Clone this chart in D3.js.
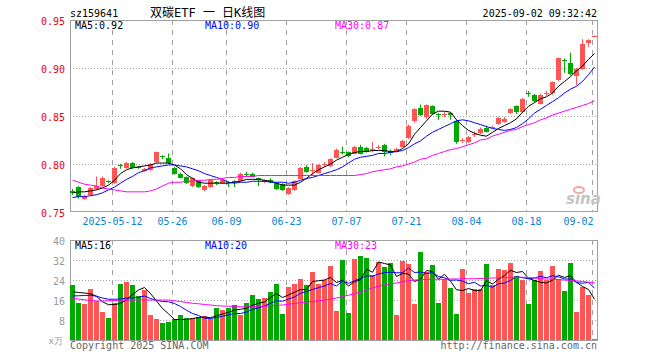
<!DOCTYPE html>
<html>
<head>
<meta charset="utf-8">
<script src="https://cdn.jsdelivr.net/npm/d3@7/dist/d3.min.js"></script>
<style>
  body { margin: 0; background: #fff; }
  svg { display: block; }
</style>
</head>
<body>
<div id="chart"></div>
<script>

// trading days shown, 2025-04-28 .. 2025-09-02
var dates = ("2025-04-28 2025-04-29 2025-04-30 2025-05-06 2025-05-07 2025-05-08 2025-05-09 2025-05-12 2025-05-13 2025-05-14 " +
    "2025-05-15 2025-05-16 2025-05-19 2025-05-20 2025-05-21 2025-05-22 2025-05-23 2025-05-26 2025-05-27 2025-05-28 " +
    "2025-05-29 2025-05-30 2025-06-03 2025-06-04 2025-06-05 2025-06-06 2025-06-09 2025-06-10 2025-06-11 2025-06-12 " +
    "2025-06-13 2025-06-16 2025-06-17 2025-06-18 2025-06-19 2025-06-20 2025-06-23 2025-06-24 2025-06-25 2025-06-26 " +
    "2025-06-27 2025-06-30 2025-07-01 2025-07-02 2025-07-03 2025-07-04 2025-07-07 2025-07-08 2025-07-09 2025-07-10 " +
    "2025-07-11 2025-07-14 2025-07-15 2025-07-16 2025-07-17 2025-07-18 2025-07-21 2025-07-22 2025-07-23 2025-07-24 " +
    "2025-07-25 2025-07-28 2025-07-29 2025-07-30 2025-07-31 2025-08-01 2025-08-04 2025-08-05 2025-08-06 2025-08-07 " +
    "2025-08-08 2025-08-11 2025-08-12 2025-08-13 2025-08-14 2025-08-15 2025-08-18 2025-08-19 2025-08-20 2025-08-21 " +
    "2025-08-22 2025-08-25 2025-08-26 2025-08-27 2025-08-28 2025-08-29 2025-09-01 2025-09-02").split(" ");

var open = [.772,.776,.764,.768,.774,.777,.782,.780,.799,.796,
    .801,.797,.793,.794,.802,.808,.806,.796,.790,.786,
    .777,.782,.773,.776,.781,.780,.781,.782,.783,.790,
    .790,.785,.781,.783,.780,.779,.769,.773,.785,.797,
    .793,.791,.799,.798,.807,.813,.812,.811,.818,.817,
    .815,.817,.820,.814,.813,.818,.827,.844,.858,.848,
    .860,.852,.851,.853,.845,.824,.823,.830,.832,.838,
    .838,.842,.844,.853,.860,.854,.874,.872,.863,.873,
    .874,.887,.908,.905,.892,.899,.926,.932];
var close = [.770,.766,.767,.775,.777,.785,.781,.796,.798,.801,
    .796,.796,.795,.800,.812,.807,.801,.790,.786,.780,
    .785,.776,.777,.783,.780,.783,.780,.781,.790,.789,
    .787,.783,.783,.781,.774,.773,.775,.782,.796,.792,
    .794,.799,.800,.805,.815,.812,.808,.818,.811,.813,
    .816,.818,.813,.812,.816,.824,.840,.857,.851,.861,
    .852,.851,.852,.851,.823,.825,.828,.831,.836,.834,
    .839,.848,.847,.857,.854,.868,.873,.866,.872,.874,
    .885,.910,.907,.894,.899,.925,.929,.933];
var high = [.774,.777,.768,.776,.787,.787,.783,.797,.800,.802,
    .802,.798,.796,.801,.813,.809,.811,.797,.791,.787,
    .786,.783,.778,.784,.782,.784,.782,.783,.791,.792,
    .791,.786,.784,.785,.781,.780,.776,.783,.797,.799,
    .801,.800,.802,.806,.816,.818,.813,.819,.820,.818,
    .823,.820,.821,.815,.817,.825,.841,.858,.862,.862,
    .861,.853,.854,.854,.846,.827,.829,.834,.838,.840,
    .840,.849,.849,.858,.861,.869,.876,.873,.873,.876,
    .886,.911,.910,.916,.900,.930,.930,.934];
var low = [.768,.764,.763,.767,.773,.776,.780,.779,.795,.795,
    .795,.795,.792,.793,.801,.805,.800,.789,.785,.779,
    .776,.775,.772,.775,.778,.779,.776,.776,.782,.787,
    .786,.777,.780,.780,.773,.772,.768,.772,.784,.791,
    .788,.790,.797,.797,.806,.810,.807,.810,.810,.812,
    .812,.815,.808,.809,.812,.817,.826,.843,.850,.847,
    .851,.846,.849,.846,.821,.822,.822,.828,.831,.833,
    .837,.841,.843,.852,.852,.853,.870,.864,.862,.871,
    .872,.886,.895,.892,.882,.898,.922,.932];

// volume, unit 万
var volume = [22,14.9,14.4,20.4,15.7,11.3,8.8,14.7,22.4,23.2,
    22,17.6,20,10,8.4,6.9,7.3,8.4,9.9,8.7,
    8.7,9.3,9.6,8.4,12.7,12,12.7,14,10,15,
    18,16.4,16.8,19.2,22.4,10.4,21.2,22.4,24.4,22,
    27.2,22.4,24,29.6,11.6,32,10.8,32.4,33.6,32.8,
    26,31.2,29.3,30.7,10,31.6,30.4,14.4,35.2,27.2,
    30,14.9,24.4,20.8,10.4,28.4,18.8,20.4,20.4,30.4,
    22,28.4,28,30.8,25.6,24,14.4,24,27.6,24,
    29.6,24.4,19.6,30.8,11.2,21.2,18,0.4];

var ma5 = [.770,.771,.771,.772,.773,.775,.778,.783,.790,.794,
    .796,.797,.798,.799,.801,.801,.801,.799,.795,.789,
    .785,.781,.780,.780,.780,.780,.780,.781,.782,.784,
    .784,.784,.783,.782,.780,.778,.778,.778,.781,.785,
    .790,.794,.797,.800,.804,.807,.810,.812,.813,.813,
    .814,.814,.814,.813,.813,.816,.821,.831,.838,.845,
    .852,.855,.855,.854,.846,.840,.835,.832,.830,.829,
    .833,.837,.840,.843,.847,.854,.860,.864,.868,.870,
    .874,.881,.886,.891,.897,.902,.909,.915];
var ma10 = [.765,.766,.766,.767,.768,.770,.773,.776,.780,.784,
    .787,.791,.793,.796,.797,.798,.799,.799,.798,.797,
    .795,.793,.790,.788,.786,.784,.781,.780,.781,.781,
    .782,.782,.782,.781,.781,.781,.780,.781,.783,.785,
    .786,.788,.790,.792,.794,.797,.801,.805,.807,.808,
    .809,.811,.811,.812,.813,.814,.817,.821,.824,.829,
    .833,.836,.839,.842,.845,.846,.845,.843,.841,.839,
    .837,.836,.835,.836,.838,.842,.847,.853,.857,.861,
    .865,.869,.874,.878,.881,.886,.893,.901];
var ma30 = [.783,.781,.779,.778,.777,.775,.774,.773,.772,.771,
    .771,.771,.771,.772,.774,.777,.780,.781,.781,.782,
    .782,.783,.783,.784,.784,.785,.786,.786,.787,.787,
    .787,.788,.788,.788,.788,.788,.788,.788,.788,.788,
    .788,.788,.788,.788,.788,.788,.788,.788,.789,.790,
    .792,.793,.794,.795,.797,.798,.800,.802,.805,.806,
    .809,.811,.813,.815,.816,.818,.820,.822,.825,.826,
    .829,.831,.833,.835,.836,.839,.841,.843,.846,.848,
    .851,.853,.855,.857,.859,.861,.863,.866];

var vma5 = [19.3,19,18.8,18.5,17.5,15.3,14.1,14.2,14.6,16.1,
    18.2,20,21,18.6,15.6,12.6,10.5,8.2,8.2,8.2,
    8.6,9,9.2,8.9,9.7,10.4,11.1,12,12.3,12.7,
    13.9,14.7,15.2,17.1,18.6,17,18,19.1,20.2,20.1,
    23.4,23.7,24,25,23,23.9,21.6,23.3,24.1,28.3,
    27.1,31.2,30.6,30,25.4,26.6,26.4,23.4,24.3,27.8,
    27.4,24.3,26.3,23.5,20.1,19.8,20.6,19.8,19.7,23.7,
    22.4,24.3,25.8,27.9,27,27.4,24.6,23.8,23.1,22.8,
    23.9,25.9,25,25.7,23.1,21.4,20.2,16.3];
var vma10 = [17.6,17.7,17.8,17.9,17.5,16.8,16.3,16.3,16.4,16.8,
    16.8,17.1,17.6,16.6,15.9,15.4,15.3,14.6,13.4,11.9,
    10.6,9.8,8.7,8.6,9,9.5,10.1,10.6,10.6,11.2,
    12.2,12.9,13.6,14.7,15.7,15.5,16.4,17.2,18.7,19.4,
    20.2,20.9,21.6,22.6,21.6,23.7,22.7,23.7,24.6,25.7,
    25.5,26.4,27,27.1,26.9,26.9,28.8,27,27.2,26.6,
    27,25.4,24.9,23.9,24,23.6,22.5,23.1,21.6,21.9,
    21.1,22.5,22.8,23.8,25.4,24.9,24.5,24.8,25.5,24.9,
    25.7,25.3,24.4,24.4,23,22.7,23.1,20.7];
var vma30 = [16.7,16.4,16.1,15.8,15.6,15.6,15.7,15.8,15.9,16,
    16,16,16,16,16,16,16,15.7,15.4,15,
    14.7,14.5,14.2,14,13.7,13.6,13.5,13.4,13.3,13.3,
    13.3,13.4,13.5,13.7,13.9,14,14.3,14.6,14.9,15.2,
    15.4,15.7,16,16.3,16.8,17.4,17.9,18.5,19.2,20,
    20.8,21.5,22,22.5,22.8,23.3,23.7,24,24.1,24.2,
    24.3,24.3,24.3,24.4,24.4,24.5,24.5,24.5,24.6,24.7,
    24.8,24.9,25,25.1,25.1,25.1,25,24.8,24.6,24.4,
    24.3,24.2,24,23.8,23.6,23.4,23.1,22.9];

var priceTicks = [0.75, 0.80, 0.85, 0.90, 0.95];
var volTicks = [8, 16, 24, 32, 40];
var tickDates = ["2025-05-12", "2025-05-26", "2025-06-09", "2025-06-23", "2025-07-07",
    "2025-07-21", "2025-08-04", "2025-08-18", "2025-09-02"];
var maNames = ["MA5", "MA10", "MA30"];
var priceMaText = ["0.92", "0.90", "0.87"];
var volMaText = ["16", "20", "23"];

var RED = "#ff5555", GREEN = "#00aa00", GRID = "#a0a0a0";
var MONO = "'DejaVu Sans Mono', 'Liberation Mono', monospace";
var maColors = ["#000000", "#0000ff", "#ff00ff"];

var svg = d3.select("#chart").append("svg").attr("width", 660).attr("height", 360)
    .attr("font-family", MONO).attr("font-size", 10);

var x = d3.scalePoint().domain(dates).range([69, 597]).padding(0.5);
var yP = d3.scaleLinear().domain([0.75, 0.95]).range([212, 20]);
var yV = d3.scaleLinear().domain([0, 40]).range([340, 240]);

function fixAxis(g) {
    g.attr("font-family", MONO).attr("font-size", 10);
    g.select(".domain").remove();
}

// dotted horizontal grid + dashed vertical grid for one panel
function panelGrid(y, ticks, top, bottom) {
    svg.append("g").attr("transform", "translate(70,0)")
        .call(d3.axisRight(y).tickValues(ticks).tickSize(527).tickFormat(""))
        .call(fixAxis)
        .selectAll("line").attr("stroke", GRID).attr("stroke-dasharray", "1,2");
    svg.append("g").attr("transform", "translate(-2," + top + ")")
        .call(d3.axisBottom(x).tickValues(tickDates).tickSize(bottom - top).tickFormat(""))
        .call(fixAxis)
        .selectAll("line").attr("stroke", GRID).attr("stroke-dasharray", "5,5");
    svg.append("rect").attr("x", 70.5).attr("y", top + 0.5)
        .attr("width", 527).attr("height", bottom - top)
        .attr("fill", "none").attr("stroke", GRID);
}

panelGrid(yP, [0.80, 0.85, 0.90], 20, 211);
panelGrid(yV, [8, 16, 24, 32], 240, 340);

// price labels
svg.append("g").attr("transform", "translate(70,0)")
    .call(d3.axisLeft(yP).tickValues(priceTicks).tickSize(0).tickPadding(5).tickFormat(d3.format(".2f")))
    .call(fixAxis)
    .selectAll("text").attr("fill", "#ee0000").attr("dy", "0.4em");

// volume labels
svg.append("g").attr("transform", "translate(70,0)")
    .call(d3.axisLeft(yV).tickValues(volTicks).tickSize(0).tickPadding(5))
    .call(fixAxis)
    .selectAll("text").attr("fill", "#999").attr("dy", "0.4em");

// date labels
var gx = svg.append("g").attr("transform", "translate(-2,211)")
    .call(d3.axisBottom(x).tickValues(tickDates).tickSize(0).tickPadding(7)
        .tickFormat(function (d, i) { return i === 0 ? d : d.slice(5); }))
    .call(fixAxis);
gx.selectAll("text").attr("fill", "#0a84d0");
gx.selectAll(".tick:last-of-type text").attr("text-anchor", "end").attr("x", 1);

// candles
var idx = d3.range(dates.length);
function col(i) { return close[i] >= open[i] ? RED : GREEN; }

var candle = svg.append("g").selectAll("g").data(idx).enter().append("g");
candle.append("line")
    .attr("x1", function (i) { return x(dates[i]) + 0.5; })
    .attr("x2", function (i) { return x(dates[i]) + 0.5; })
    .attr("y1", function (i) { return yP(high[i]); })
    .attr("y2", function (i) { return yP(low[i]); })
    .attr("stroke", col);
candle.append("rect")
    .attr("x", function (i) { return x(dates[i]) - 2; })
    .attr("width", 5)
    .attr("y", function (i) { return Math.round(yP(Math.max(open[i], close[i]))); })
    .attr("height", function (i) { return Math.max(1, Math.round(Math.abs(yP(open[i]) - yP(close[i])))); })
    .attr("fill", col);

// volume bars
svg.append("g").selectAll("rect").data(idx).enter().append("rect")
    .attr("x", function (i) { return x(dates[i]) - 2; })
    .attr("width", 5)
    .attr("y", function (i) { return Math.round(yV(volume[i])); })
    .attr("height", function (i) { return 340 - Math.round(yV(volume[i])); })
    .attr("fill", col);

// moving averages
function drawMa(arr, y, color) {
    var line = d3.line()
        .x(function (d, i) { return x(dates[i]) + 0.5; })
        .y(function (d) { return y(d); });
    svg.append("path").attr("d", line(arr)).attr("fill", "none")
        .attr("stroke", color).attr("stroke-width", 1);
}
[ma5, ma10, ma30].forEach(function (a, k) { drawMa(a, yP, maColors[k]); });
[vma5, vma10, vma30].forEach(function (a, k) { drawMa(a, yV, maColors[k]); });

// legends
maNames.forEach(function (n, k) {
    svg.append("text").attr("x", 75 + 130 * k).attr("y", 29).attr("fill", maColors[k])
        .text(n + ":" + priceMaText[k]);
    svg.append("text").attr("x", 75 + 130 * k).attr("y", 249).attr("fill", maColors[k])
        .text(n + ":" + volMaText[k]);
});

// header
svg.append("text").attr("x", 70).attr("y", 17).text("sz159641");
svg.append("text").attr("x", 150).attr("y", 17).attr("font-size", 12)
    .attr("font-family", "'DejaVu Sans Mono', 'Noto Sans CJK SC', monospace")
    .text("双碳ETF 一 日K线图");
svg.append("text").attr("x", 597).attr("y", 17).attr("text-anchor", "end").text("2025-09-02 09:32:42");

// footer
svg.append("text").attr("x", 63).attr("y", 344).attr("text-anchor", "end")
    .attr("fill", "#999").attr("font-size", 9).text("x万");
svg.append("text").attr("x", 70).attr("y", 349).attr("fill", "#666").text("Copyright 2025 SINA.COM");
svg.append("text").attr("x", 597).attr("y", 349).attr("text-anchor", "end").attr("fill", "#666")
    .text("http://finance.sina.com.cn");

// sina watermark
var logo = svg.append("g").attr("transform", "translate(566,0)");
logo.append("ellipse").attr("cx", 13).attr("cy", 190).attr("rx", 5).attr("ry", 3)
    .attr("fill", "none").attr("stroke", "#f2a5a5").attr("stroke-width", 2);
logo.append("text").attr("x", 0).attr("y", 204).attr("font-family", "'DejaVu Sans', sans-serif")
    .attr("font-size", 15).attr("font-weight", "bold").attr("font-style", "italic")
    .attr("fill", "#c4c4c4").text("sina");

</script>
</body>
</html>
